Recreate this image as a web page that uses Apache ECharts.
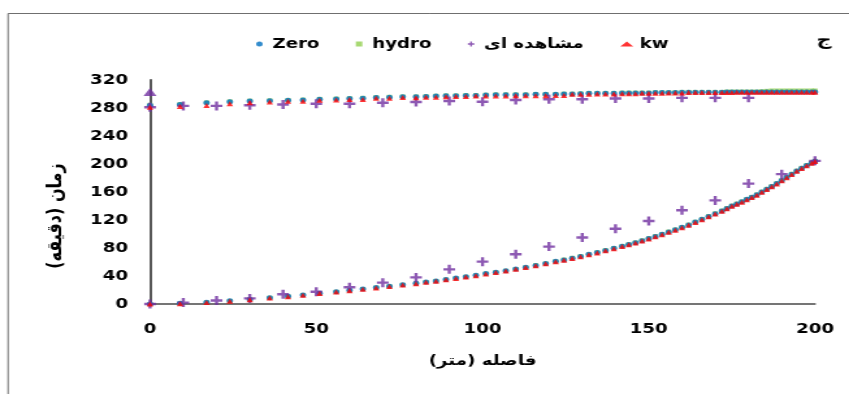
<!DOCTYPE html>
<html>
<head>
<meta charset="utf-8">
<title>chart</title>
<script src="https://cdn.jsdelivr.net/npm/echarts@6/dist/echarts.min.js"></script>
<style>
  html, body { margin: 0; padding: 0; background: #fff; overflow: hidden; }
  /* the reference picture is stretched sideways, so draw narrower and widen it */
  #chart { width: 653px; height: 394px; transform: scaleX(1.3002); transform-origin: 0 0; }
</style>
</head>
<body>
<div id="chart"></div>
<script>
// model grid (distance, m) shared by Zero / hydro / kw
const distance = [0, 9, 17, 24, 30, 36, 41.5, 46, 51, 56,
  60, 64, 68, 72, 76, 80, 83, 86, 89, 92,
  95, 98, 101, 104, 107, 110, 113, 116, 119, 122,
  124.5, 127, 129.5, 132, 134.5, 137, 139.5, 142, 144, 146,
  148, 150, 152, 154, 156, 158, 160, 162, 164, 166,
  168, 170, 172, 173.5, 175, 176.5, 178, 179.5, 181, 182.5,
  184, 185.5, 187, 188.5, 190, 191.5, 193, 194.5, 196, 197.5,
  199, 200];

// advance (lower curve), minutes
const zeroAdvance = [0, 1, 2.5, 4.5, 6.5, 9, 11, 13, 15.5, 17.5,
  19.5, 21.5, 23.5, 25.5, 27.5, 29.5, 31.5, 33, 35, 37,
  39, 41, 43.5, 45.5, 47.5, 50, 52.5, 55, 58, 61,
  63, 65.5, 68, 71, 73.5, 76.5, 79.5, 82.5, 85, 87.5,
  90.5, 93.5, 96.5, 99.5, 103, 106, 109.5, 113, 117, 121,
  125, 129, 133, 136.5, 140, 143, 146, 149.5, 152.5, 156,
  160, 164, 168, 172, 176.5, 181, 185.5, 190, 194, 198,
  201.5, 204];
const hydroAdvance = [0, 1, 2.5, 4.5, 6.5, 9, 11, 13, 15.5, 17.5,
  19.5, 21.5, 23.5, 25.5, 27.5, 29.5, 31.5, 33, 35, 37,
  39, 41, 43.5, 45.5, 47.5, 50, 52.5, 55.5, 58, 61,
  63.5, 66, 68.5, 71, 74, 77, 80, 83, 85.5, 88,
  91, 94, 97, 100, 103.5, 106.5, 110, 113.5, 117.5, 121.5,
  125.5, 129.5, 133.5, 137, 140.5, 143.5, 146.5, 150, 153, 156.5,
  160.5, 164.5, 168.5, 172.5, 177, 181.5, 186, 190.5, 194.5, 198.5,
  202, 204.5];
const kwAdvance = [0, 0.5, 2, 4, 6, 8.5, 10.5, 12.5, 15, 17,
  19, 21, 23, 25, 27, 29, 31, 32.5, 34.5, 36.5,
  38.5, 40.5, 43, 45, 47, 49.5, 52, 54.5, 57.5, 60.5,
  62.5, 65, 67.5, 70.5, 73, 76, 79, 82, 84.5, 87,
  90, 93, 96, 99, 102.5, 105.5, 109, 112.5, 116.5, 120.5,
  124.5, 128.5, 132.5, 136, 139.5, 142.5, 145.5, 149, 152, 155.5,
  159.5, 163.5, 167.5, 171.5, 176, 180.5, 185, 189.5, 193.5, 197.5,
  201, 203.5];

// recession (upper curve), minutes
const zeroRecession = [284, 285, 287.5, 289, 290, 290.5, 291, 291.5, 292.5, 293,
  293.5, 294, 295, 295.5, 296, 296, 296.5, 297, 297.5, 297.5,
  298, 298, 298.5, 299, 299, 299, 299, 299.5, 299.5, 299.5,
  300, 300, 300.5, 301, 301, 301, 301, 301.5, 301.5, 301.5,
  301.5, 301.5, 302, 302, 302, 302, 302.5, 302.5, 302.5, 302.5,
  302.5, 302.5, 302.5, 303, 303, 303, 303, 303, 303, 303,
  303, 303, 303, 303, 303, 303, 303, 303, 303, 303,
  303, 303];
const hydroRecession = [284.5, 285.5, 288, 289.5, 290.5, 291, 291.5, 292, 293, 293.5,
  294, 294.5, 295.5, 296, 296.5, 296.5, 297, 297.5, 298, 298,
  298.5, 298.5, 299, 299.5, 299.5, 299.5, 299.5, 300, 300, 300,
  300.5, 300.5, 301, 301.5, 301.5, 301.5, 301.5, 302, 302, 302,
  302, 302, 302.5, 302.5, 302.5, 302.5, 303, 303, 303, 303,
  303, 303, 303, 303.5, 303.5, 303.5, 303.5, 303.5, 303.5, 303.5,
  304, 304.5, 305, 305, 305, 305, 305, 305, 305, 305,
  305, 305];
const kwRecession = [281, 282, 283.5, 286, 287.5, 288.5, 289.5, 289.5, 291, 291.5,
  292, 292, 294, 294, 295, 294.5, 295.5, 295.5, 296, 296.5,
  296.5, 297, 297, 297, 297, 297.5, 297.5, 297.5, 297.5, 298,
  298, 299.5, 299.5, 299.5, 300, 300, 300, 300.5, 300.5, 300.5,
  301, 301, 301, 301, 301.5, 301.5, 301.5, 302, 302, 302,
  302, 302, 302, 302, 302, 302.5, 302.5, 302.5, 302.5, 302.5,
  302.5, 302.5, 302.5, 302.5, 302.5, 302.5, 302.5, 302.5, 302.5, 302.5,
  302.5, 302.5];

// observed (مشاهده ای)
const observedDistance = [0, 10, 20, 30, 40, 50, 60, 70, 80, 90, 100,
  110, 120, 130, 140, 150, 160, 170, 180, 190, 200];
const observedAdvance = [0, 2, 5, 8, 14, 17.5, 24, 30.5, 38, 49.5, 60.5,
  71, 82, 95, 107.5, 118.5, 134, 148, 172, 185.5, 204.5];
const observedRecession = [281, 283, 283, 284, 285, 286, 286, 287.5, 288.5, 290,
  289, 291.5, 292.5, 292.5, 293.5, 293.5, 294.5, 294.5, 294.5];
const observedStart = [0, 303]; // drawn as the purple triangle

const legendNames = ['Zero', 'hydro', 'مشاهده ای', 'kw'];
const xTicks = { min: 0, max: 200, interval: 50 };
const yTicks = { min: 0, max: 320, interval: 40 };

const font = "'DejaVu Sans', sans-serif";
const plusPath = 'path://M3.3,0H5.7V3.3H9V5.7H5.7V9H3.3V5.7H0V3.3H3.3Z';
const squarePath = 'path://M0,0H4V4H0Z';

function pairs(xs, ys) {
  return ys.map((y, i) => [xs[i], y]);
}

const chart = echarts.init(document.getElementById('chart'));

chart.setOption({
  animation: false,
  textStyle: { fontFamily: font },
  title: {
    text: 'ج',
    left: 623,
    top: 28,
    textStyle: { fontFamily: font, fontSize: 16, fontWeight: 'bold', color: '#000' }
  },
  legend: {
    data: legendNames.map(name => (name === 'hydro' ? { name, icon: squarePath } : name)),
    left: 192,
    top: 32,
    itemGap: 28,
    itemWidth: 10,
    itemHeight: 5,
    textStyle: { fontFamily: font, fontSize: 14, fontWeight: 'bold', color: '#000' }
  },
  graphic: [
    {
      // outer chart frame (right / bottom edges fall outside the picture)
      type: 'rect',
      shape: { x: 6.2, y: 13.5, width: 700, height: 420 },
      style: { fill: 'none', stroke: '#6f6f6f', lineWidth: 1 },
      silent: true
    },
    {
      // y axis title, placed by hand (the axis name gets pushed past the labels)
      type: 'text',
      x: 42.5,
      y: 216,
      rotation: Math.PI / 2,
      style: {
        text: 'زمان (دقیقه)',
        fontFamily: font,
        fontSize: 16,
        fontWeight: 'bold',
        fill: '#000',
        align: 'center',
        verticalAlign: 'middle'
      },
      silent: true
    }
  ],
  grid: {
    left: 115.4,
    right: 26.2,
    top: 80,
    bottom: 90
  },
  xAxis: [
    {
      type: 'value',
      min: xTicks.min,
      max: xTicks.max,
      interval: xTicks.interval,
      name: 'فاصله (متر)',
      nameLocation: 'middle',
      nameGap: 50,
      nameTextStyle: { fontFamily: font, fontSize: 14, fontWeight: 'bold', color: '#000' },
      axisLine: { show: true, lineStyle: { color: '#bfbfbf', width: 1.5 } },
      axisTick: { show: false },
      splitLine: { show: false },
      axisLabel: { margin: 18, fontFamily: font, fontSize: 14, fontWeight: 'bold', color: '#000' }
    },
    {
      // top frame line of the plot area
      type: 'value',
      position: 'top',
      min: xTicks.min,
      max: xTicks.max,
      axisLine: { show: true, lineStyle: { color: '#595959', width: 1.5 } },
      axisTick: { show: false },
      axisLabel: { show: false },
      splitLine: { show: false }
    }
  ],
  yAxis: [
    {
      type: 'value',
      min: yTicks.min,
      max: yTicks.max,
      interval: yTicks.interval,
      axisLine: { show: true, lineStyle: { color: '#bfbfbf', width: 1.5 } },
      axisTick: { show: false },
      splitLine: { show: false },
      axisLabel: { margin: 17, fontFamily: font, fontSize: 14, fontWeight: 'bold', color: '#000' }
    },
    {
      // right frame line of the plot area
      type: 'value',
      position: 'right',
      min: yTicks.min,
      max: yTicks.max,
      axisLine: { show: true, lineStyle: { color: '#595959', width: 2 } },
      axisTick: { show: false },
      axisLabel: { show: false },
      splitLine: { show: false }
    }
  ],
  series: [
    {
      name: 'hydro',
      type: 'scatter',
      symbol: 'rect',
      symbolSize: 4,
      itemStyle: { color: '#92d050' },
      data: pairs(distance, hydroAdvance).concat(pairs(distance, hydroRecession))
    },
    {
      name: 'Zero',
      type: 'scatter',
      symbol: 'circle',
      symbolSize: 5,
      itemStyle: { color: '#0070c0' },
      data: pairs(distance, zeroAdvance).concat(pairs(distance, zeroRecession))
    },
    {
      name: 'مشاهده ای',
      type: 'scatter',
      symbol: plusPath,
      symbolSize: 9,
      itemStyle: { color: '#7030a0' },
      data: pairs(observedDistance, observedAdvance)
        .concat(pairs(observedDistance, observedRecession))
        .concat([{ value: observedStart, symbol: 'triangle', symbolSize: [10, 8] }])
    },
    {
      name: 'kw',
      type: 'scatter',
      symbol: 'triangle',
      symbolSize: 5,
      itemStyle: { color: '#ff0000' },
      data: pairs(distance, kwAdvance).concat(pairs(distance, kwRecession))
    }
  ]
});
</script>
</body>
</html>
